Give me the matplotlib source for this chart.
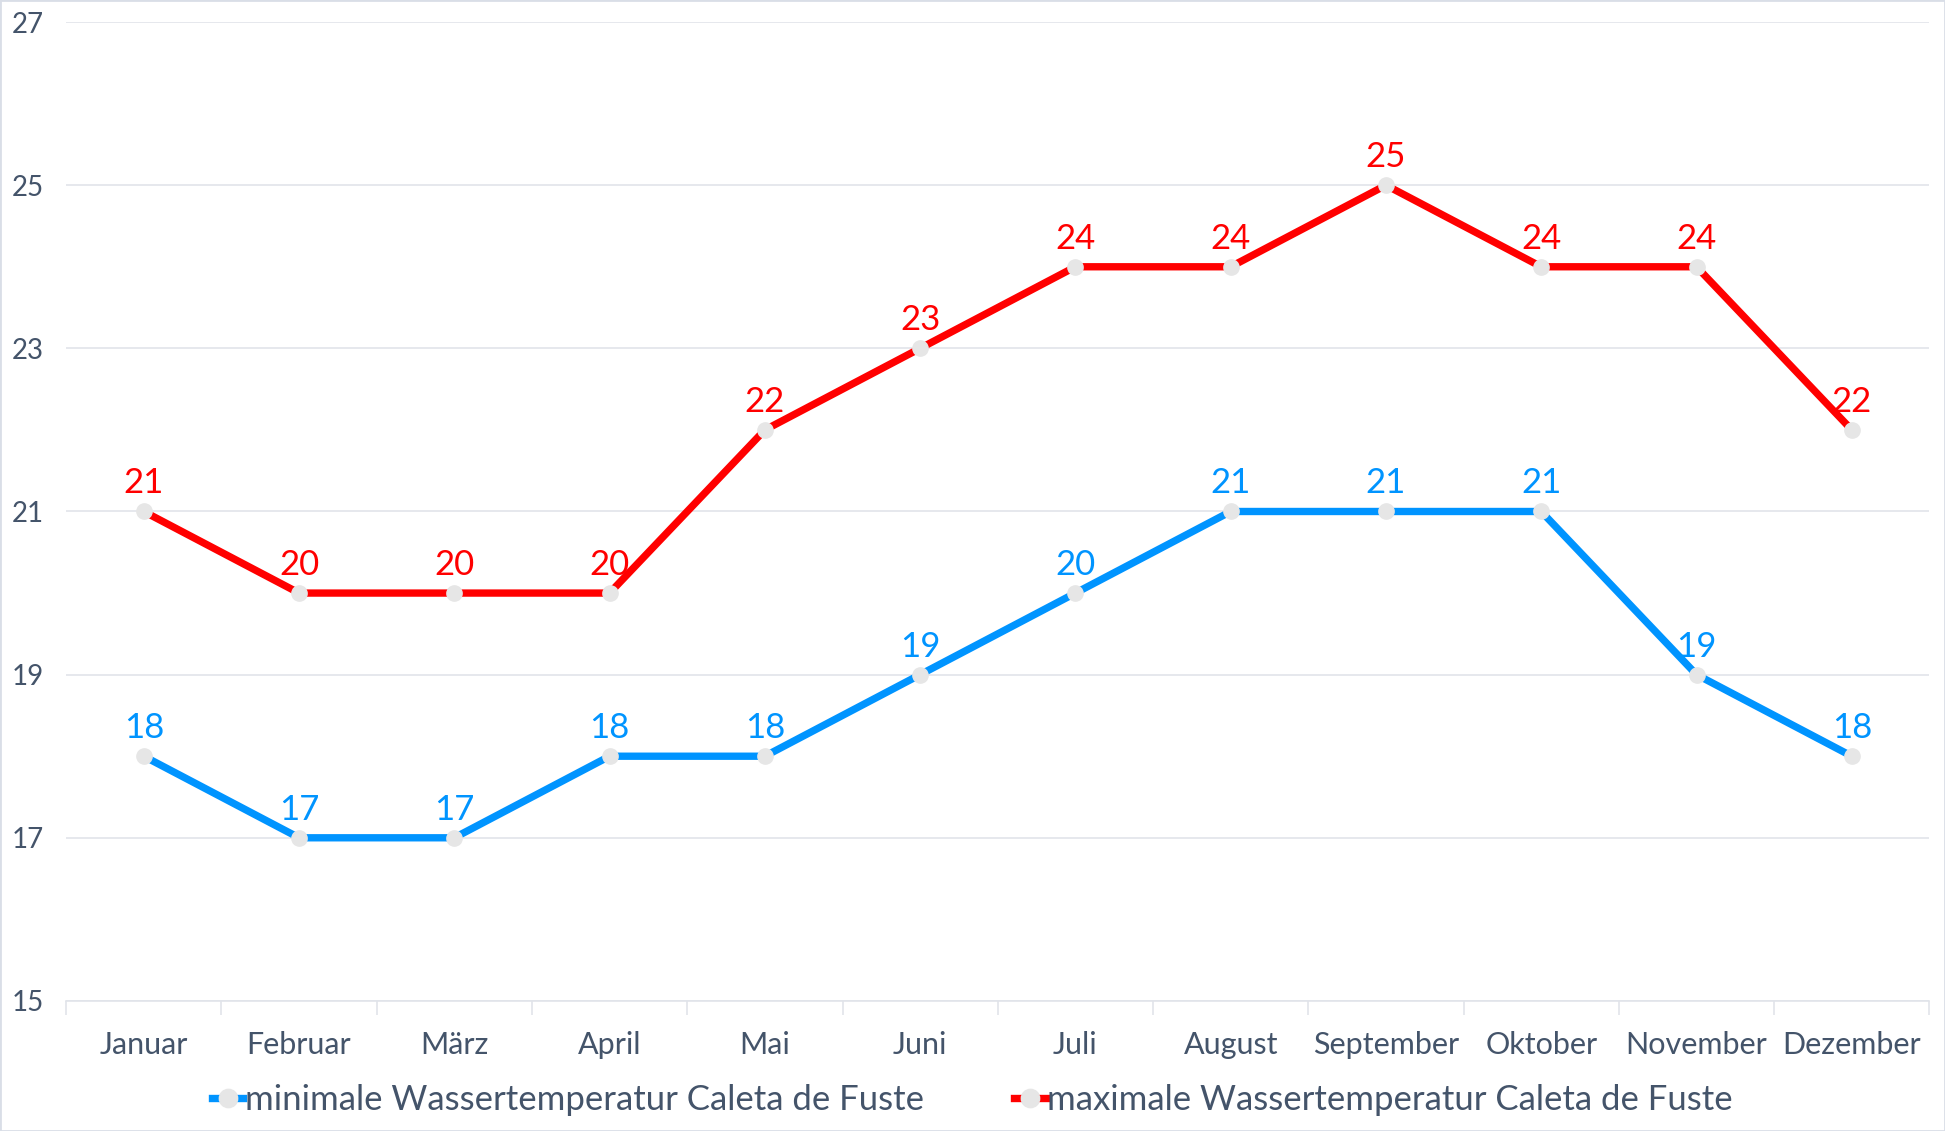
import matplotlib
matplotlib.use('Agg')
from matplotlib import pyplot as plt
from matplotlib.patches import Rectangle
import numpy as np

months = ['Januar', 'Februar', 'März', 'April', 'Mai', 'Juni', 'Juli',
          'August', 'September', 'Oktober', 'November', 'Dezember']
min_temp = [18, 17, 17, 18, 18, 19, 20, 21, 21, 21, 19, 18]
max_temp = [21, 20, 20, 20, 22, 23, 24, 24, 25, 24, 24, 22]
y_ticks = [15, 17, 19, 21, 23, 25, 27]
min_label = 'minimale Wassertemperatur Caleta de Fuste'
max_label = 'maximale Wassertemperatur Caleta de Fuste'

blue = '#0094FF'
red = '#FF0000'
text_col = '#44546A'
grid_col = '#E1E4EA'

plt.rcParams['font.family'] = ['Lato', 'DejaVu Sans']

fig = plt.figure(figsize=(19.45, 11.31), dpi=100)
ax = fig.add_axes([0.034, 0.115, 0.958, 0.8655])

x = np.arange(len(months))
for vals, col, lab in [(min_temp, blue, min_label), (max_temp, red, max_label)]:
  ax.plot(x, vals, color=col, lw=5.3, marker='o', markersize=11,
          markerfacecolor='#E6E6E6', markeredgecolor='#E6E6E6',
          label=lab, zorder=3)
  for xi, v in zip(x, vals):
    ax.annotate(str(v), (xi, v), xytext=(0, 13), textcoords='offset points',
                ha='center', va='baseline', color=col, fontsize=25)

ax.set_xlim(-0.5, len(months) - 0.5)
ax.set_ylim(15, 27)
ax.set_yticks(y_ticks)
ax.set_xticks(x)
ax.set_xticklabels(months)
ax.set_xticks(np.arange(len(months) + 1) - 0.5, minor=True)
ax.tick_params(axis='x', which='major', length=0, pad=22, labelsize=22,
               labelcolor=text_col)
ax.tick_params(axis='x', which='minor', length=10, color=grid_col, width=1.2)
ax.tick_params(axis='y', length=0, pad=16, labelsize=20, labelcolor=text_col)

ax.grid(axis='y', color=grid_col, lw=1.2)
ax.set_axisbelow(True)
for s in ['top', 'right', 'left']:
  ax.spines[s].set_visible(False)
ax.spines['bottom'].set_color(grid_col)
ax.spines['bottom'].set_linewidth(1.2)

leg = fig.legend(loc='center', bbox_to_anchor=(0.5, 0.027), ncol=2,
                 frameon=False, fontsize=25, handlelength=0.9,
                 handletextpad=0.05, columnspacing=2.6, labelcolor=text_col,
                 markerscale=1.2)

fig.patches.append(Rectangle((0, 0), 1, 1, transform=fig.transFigure,
                             fill=False, edgecolor='#D9DEE7', lw=2))

fig.savefig('out.png')
plt.close(fig)
